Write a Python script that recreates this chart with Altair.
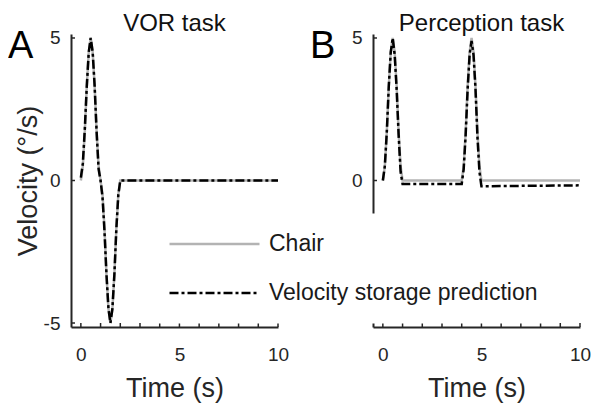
import altair as alt
import pandas as pd

FONT = "Liberation Sans"
AX = "#262626"

series_names = ["Chair", "Velocity storage prediction"]
series_colors = ["#b3b3b3", "#000000"]
series_dashes = [[1, 0], [9, 3, 3, 3]]

# Panel A: VOR task
vor_time = [0, 0.1, 0.2, 0.3, 0.4, 0.5, 0.6, 0.7, 0.8, 0.9, 1.0,
            1.1, 1.2, 1.3, 1.4, 1.5, 1.6, 1.7, 1.8, 1.9, 2.0, 10]
vor_chair = [0, 0.5, 1.7, 3.3, 4.5, 5.0, 4.5, 3.3, 1.7, 0.5, 0,
             -0.5, -1.7, -3.3, -4.5, -5.0, -4.5, -3.3, -1.7, -0.5, 0, 0]
vor_pred = [0.1, 0.6, 1.8, 3.3, 4.5, 5.0, 4.5, 3.3, 1.7, 0.4, 0,
            -0.6, -1.8, -3.3, -4.5, -5.0, -4.5, -3.3, -1.7, -0.5, 0, 0]

# Panel B: Perception task
perc_time = [0, 0.1, 0.2, 0.3, 0.4, 0.5, 0.6, 0.7, 0.8, 0.9, 1.0, 1.1,
             3.9, 4.0, 4.1, 4.2, 4.3, 4.4, 4.5, 4.6, 4.7, 4.8, 4.9, 5.0, 5.1, 10]
perc_chair = [0, 0.5, 1.7, 3.3, 4.5, 5.0, 4.5, 3.3, 1.7, 0.5, 0, 0,
              0, 0, 0.5, 1.7, 3.3, 4.5, 5.0, 4.5, 3.3, 1.7, 0.5, 0, 0, 0]
perc_pred = [0, 0.5, 1.7, 3.3, 4.5, 5.0, 4.4, 3.2, 1.6, 0.3, -0.12, -0.12,
             -0.12, -0.12, 0.4, 1.6, 3.2, 4.4, 4.9, 4.4, 3.2, 1.5, 0.3, -0.2, -0.2, -0.17]

x_tick_values = [0, 1, 2, 3, 4, 5, 6, 7, 8, 9, 10]
x_label_values = [0, 5, 10]
vor_y_ticks = [-5, 0, 5]
perc_y_ticks = [0, 5]

W, H = 207, 293

x_scale = alt.Scale(domain=[-0.5, 10], nice=False, zero=False)
y_scale = alt.Scale(domain=[-5.14, 5.14], nice=False, zero=False)
color_scale = alt.Scale(domain=series_names, range=series_colors)
dash_scale = alt.Scale(domain=series_names, range=series_dashes)

legend = alt.Legend(
    title=None, orient="none", legendX=79, legendY=179.5, direction="vertical",
    symbolType="stroke", symbolSize=8100, symbolStrokeWidth=2.5,
    labelFont=FONT, labelFontSize=23, labelColor="#1a1a1a", labelOffset=8,
    labelLimit=400, fillColor="white", padding=18, rowPadding=24,
    clipHeight=25, zindex=1,
)


def series_df(times, values, name):
    return pd.DataFrame({"t": times, "v": values, "series": [name] * len(times)})


def make_panel(times, chair, pred, yticks, title, title_x, letter, letter_x, y_title):
    x_axis = alt.Axis(values=x_label_values, title="Time (s)", labelPadding=18,
                      titlePadding=11, labelFlush=False)
    if y_title:
        y_axis = alt.Axis(values=yticks, title=y_title, labelPadding=11,
                          titlePadding=1, titleFontSize=27, labelFlush=False,
                          labelExpr="'' + datum.value")
    else:
        y_axis = alt.Axis(values=yticks, title=None, labelPadding=11, labelFlush=False,
                          labelExpr="'' + datum.value")

    def line_layer(df):
        return alt.Chart(df).mark_line(strokeWidth=2.5, clip=False).encode(
            x=alt.X("t:Q", scale=x_scale, axis=x_axis),
            y=alt.Y("v:Q", scale=y_scale, axis=y_axis),
            color=alt.Color("series:N", scale=color_scale, legend=legend),
            strokeDash=alt.StrokeDash("series:N", scale=dash_scale, legend=legend),
        )

    chair_line = line_layer(series_df(times, chair, series_names[0]))
    pred_line = line_layer(series_df(times, pred, series_names[1]))

    xt = alt.Chart(pd.DataFrame({"t": x_tick_values})).mark_rule(
        color=AX, strokeWidth=1.5).encode(
        x=alt.X("t:Q", scale=x_scale, axis=x_axis),
        y=alt.value(H), y2=alt.value(H - 4))
    yt = alt.Chart(pd.DataFrame({"v": yticks})).mark_rule(
        color=AX, strokeWidth=1.5).encode(
        y=alt.Y("v:Q", scale=y_scale, axis=y_axis),
        x=alt.value(0), x2=alt.value(4))
    lt = alt.Chart(pd.DataFrame({"label": [letter]})).mark_text(
        font=FONT, fontSize=38, align="left", baseline="alphabetic", color="#000000").encode(
        text="label:N", x=alt.value(letter_x), y=alt.value(24))
    tt = alt.Chart(pd.DataFrame({"title": [title]})).mark_text(
        font=FONT, fontSize=24, align="center", baseline="alphabetic", color="#111111").encode(
        text="title:N", x=alt.value(title_x), y=alt.value(-3))

    return alt.layer(chair_line, pred_line, xt, yt, lt, tt).properties(width=W, height=H)


panel_a = make_panel(vor_time, vor_chair, vor_pred, vor_y_ticks, "VOR task", W / 2,
                     "A", -63, "Velocity (°/s)")
panel_b = make_panel(perc_time, perc_chair, perc_pred, perc_y_ticks, "Perception task",
                     W / 2 + 5, "B", -63, None)

chart = alt.hconcat(panel_a, panel_b, spacing=95, bounds="flush").properties(
    autosize=alt.AutoSizeParams(type="none"),
    padding={"left": 63, "top": 26, "right": 521, "bottom": 366},
).configure_view(stroke=None).configure_axis(
    domainColor=AX, domainWidth=2, ticks=False, grid=False,
    labelFont=FONT, labelFontSize=19, labelColor=AX,
    titleFont=FONT, titleFontSize=27, titleFontWeight="normal", titleColor=AX,
)

chart.save("out.html", embed_options={"renderer": "svg", "actions": False})
